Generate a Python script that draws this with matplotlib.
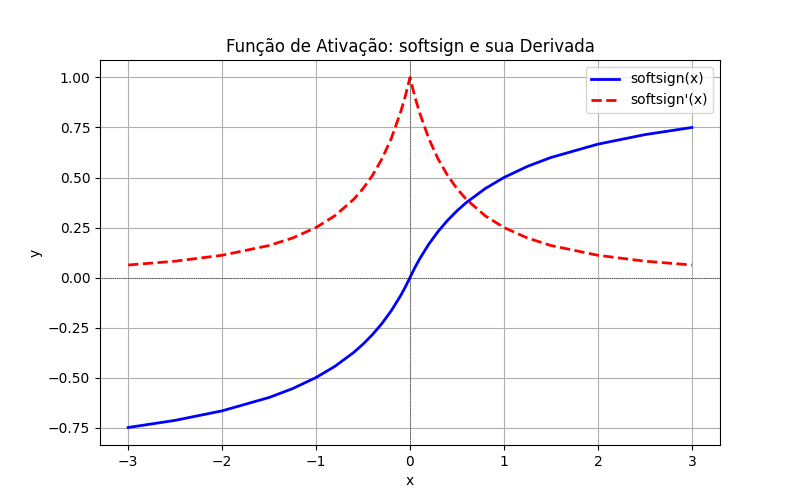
import matplotlib
matplotlib.use("Agg")
import matplotlib.pyplot as plt

x_pos = [0, 0.05, 0.1, 0.2, 0.3, 0.4, 0.5, 0.6, 0.8, 1.0, 1.25, 1.5, 2.0, 2.5, 3.0]
soft_pos = [0, 0.0476, 0.0909, 0.1667, 0.2308, 0.2857, 0.3333, 0.375, 0.4444, 0.5, 0.5556, 0.6, 0.6667, 0.7143, 0.75]
deriv_pos = [1.0, 0.907, 0.8264, 0.6944, 0.5917, 0.5102, 0.4444, 0.3906, 0.3086, 0.25, 0.1975, 0.16, 0.1111, 0.0816, 0.0625]

x = [-v for v in x_pos[:0:-1]] + x_pos
soft = [-v for v in soft_pos[:0:-1]] + soft_pos
deriv = deriv_pos[:0:-1] + deriv_pos

fig, ax = plt.subplots(figsize=(8, 5), dpi=100)
ax.plot(x, soft, color="blue", lw=2, label="softsign(x)")
ax.plot(x, deriv, color="red", lw=2, ls="--", label="softsign'(x)")
ax.axhline(0, color="black", lw=0.5, ls=":")
ax.axvline(0, color="black", lw=0.5, ls=":")
ax.set_title("Função de Ativação: softsign e sua Derivada")
ax.set_xlabel("x")
ax.set_ylabel("y")
ax.grid(True)
ax.legend(loc="upper right")
fig.savefig("out.png")
